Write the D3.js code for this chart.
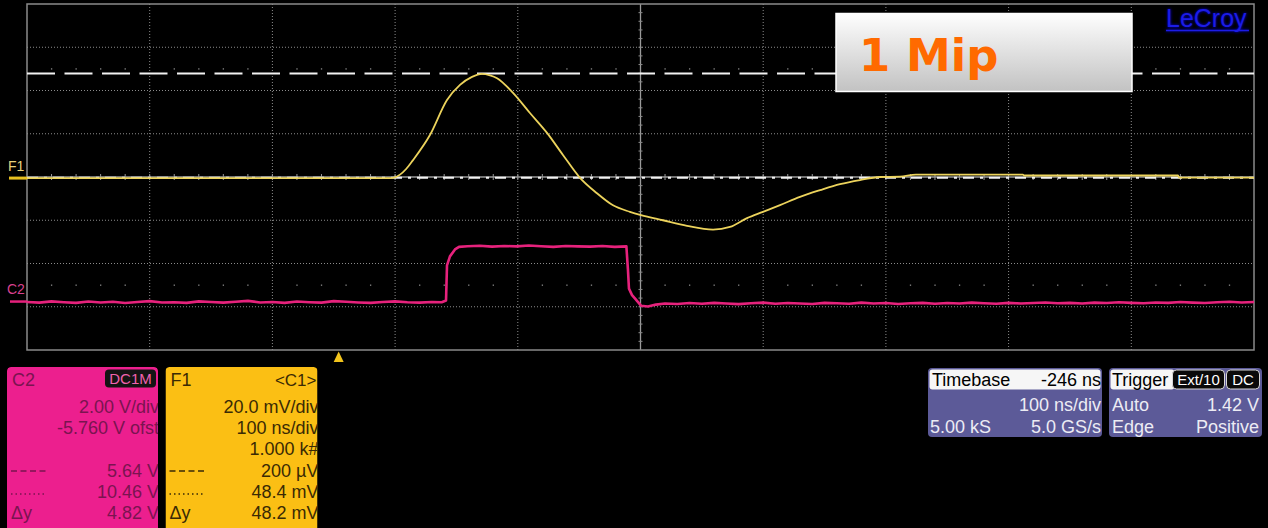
<!DOCTYPE html>
<html>
<head>
<meta charset="utf-8">
<script src="https://cdn.jsdelivr.net/npm/d3@7"></script>
<style>
  html, body { margin: 0; padding: 0; background: #000; }
  svg { display: block; }
</style>
</head>
<body>
<svg id="scope" width="1268" height="528"></svg>
<script>
// ---------------- waveform data ----------------
// F1 (averaged C1): [time ns relative to trigger, amplitude mV]
const f1Trace = [
  [-254, 0], [40, 0], [44.3, 0.1], [50.0, 1.6], [55, 4.2], [60.6, 8.3], [74.4, 19.9], [88.3, 36.1],
  [98.9, 43.1], [108.7, 46.8], [116.8, 48.2], [123.4, 47.5], [129.1, 46.2],
  [142.1, 39.4], [155.9, 30.1], [169.8, 20.9], [182.8, 10.7], [196.7, 0.1],
  [210.5, -7.0], [223.6, -12.6], [237.4, -15.6], [246.4, -17.1], [264.3, -19.5],
  [283.9, -22.1], [305.1, -23.8], [318.9, -22.6], [332.8, -18.5], [345.8, -15.6],
  [359.7, -12.5], [376.0, -8.7], [392.3, -5.6], [408.6, -2.8], [424.9, -0.9],
  [441.2, 0.5], [457.5, 0.7], [470.5, 1.6], [557.7, 1.6], [558.5, 1.2],
  [684.1, 1.2], [684.9, 0.2], [746, 0.2]
];

// C2 (gate): [time ns relative to trigger, amplitude V]
const c2Trace = [
  [-254, -0.02], [-244, -0.05], [-234, 0.01], [-224, -0.03], [-214, -0.06], [-204, 0.00],
  [-194, -0.04], [-184, -0.01], [-174, -0.07], [-164, -0.02], [-154, 0.02], [-144, -0.04],
  [-134, -0.03], [-124, -0.06], [-114, 0.01], [-104, -0.02], [-94, -0.05], [-84, -0.01],
  [-74, 0.03], [-64, -0.04], [-54, -0.02], [-44, -0.06], [-34, 0.00], [-24, -0.03],
  [-14, -0.05], [-4, 0.02], [6, -0.01], [16, -0.04], [26, -0.06], [36, -0.02],
  [46, 0.01], [56, -0.03], [66, -0.05], [76, -0.02], [84, -0.03],
  [87.5, 0.05], [88.3, 1.67], [90.7, 2.09], [94.8, 2.41], [98.1, 2.53],
  [105, 2.56], [115, 2.58], [125, 2.54], [135, 2.57], [145, 2.55], [155, 2.59],
  [165, 2.56], [175, 2.53], [185, 2.57], [195, 2.55], [205, 2.54], [215, 2.57],
  [225, 2.53], [234.5, 2.55],
  [235.8, 1.44], [236.6, 0.60], [239.1, 0.30], [242.3, 0.09], [246.4, -0.19],
  [252.1, -0.23], [258.6, -0.14], [266, -0.09],
  [276, -0.11], [286, -0.07], [296, -0.10], [306, -0.06], [316, -0.09], [326, -0.12],
  [336, -0.08], [346, -0.05], [356, -0.10], [366, -0.07], [376, -0.09], [386, -0.11],
  [396, -0.06], [406, -0.08], [416, -0.10], [426, -0.05], [436, -0.09], [446, -0.07],
  [456, -0.11], [466, -0.08], [476, -0.06], [486, -0.10], [496, -0.07], [506, -0.09],
  [516, -0.05], [526, -0.08], [536, -0.10], [546, -0.06], [556, -0.09], [566, -0.07],
  [576, -0.04], [586, -0.08], [596, -0.06], [606, -0.09], [616, -0.05], [626, -0.07],
  [636, -0.03], [646, -0.06], [656, -0.08], [666, -0.04], [676, -0.06], [686, -0.02],
  [696, -0.05], [706, -0.07], [716, -0.03], [726, -0.01], [736, -0.04], [746, -0.02]
];

// horizontal cursor levels on F1 (mV)
const f1CursorLevels = [48.4, 0.2];

// readout panels
const c2Rows = [
  ["", "2.00 V/div"], ["", "-5.760 V ofst"], ["", ""],
  ["dash", "5.64 V"], ["dot", "10.46 V"], ["Δy", "4.82 V"]
];
const f1Rows = [
  ["", "20.0 mV/div"], ["", "100 ns/div"], ["", "1.000 k#"],
  ["dash", "200 µV"], ["dot", "48.4 mV"], ["Δy", "48.2 mV"]
];
const timebaseRows = [["", "100 ns/div"], ["5.00 kS", "5.0 GS/s"]];
const triggerRows = [["Auto", "1.42 V"], ["Edge", "Positive"]];

// ---------------- layout ----------------
const svg = d3.select("#scope");
const GX0 = 27, GX1 = 1254, GY0 = 4, GY1 = 350;
const NX = 10, NY = 8;
const divW = (GX1 - GX0) / NX, divH = (GY1 - GY0) / NY;
const cx = GX0 + divW * NX / 2, cy = GY0 + divH * NY / 2;
const FONT = "'Liberation Sans', Arial, Helvetica, sans-serif";

// time: 100 ns/div, timebase delay -246 ns
const x = d3.scaleLinear().domain([-254, 746]).range([GX0, GX1]);
// F1: 20 mV/div
const yF1 = d3.scaleLinear().domain([-79.5, 80.5]).range([GY1, GY0]);
// C2: 2 V/div, offset -5.760 V
const yC2 = d3.scaleLinear().domain([5.76 - 8, 5.76 + 8]).range([GY1, GY0]);

svg.append("rect").attr("width", 1268).attr("height", 528).attr("fill", "#000");

// defs
const defs = svg.append("defs");
const grad = defs.append("linearGradient").attr("id", "labelGrad")
  .attr("x1", 0).attr("y1", 0).attr("x2", 0).attr("y2", 1);
grad.append("stop").attr("offset", "0%").attr("stop-color", "#fefefe");
grad.append("stop").attr("offset", "100%").attr("stop-color", "#c2c2c2");
const glow = defs.append("filter").attr("id", "glow")
  .attr("x", "-20%").attr("y", "-40%").attr("width", "140%").attr("height", "180%");
glow.append("feGaussianBlur").attr("stdDeviation", 1.8);
const soft = defs.append("filter").attr("id", "soft");
soft.append("feGaussianBlur").attr("stdDeviation", 0.45);
defs.append("clipPath").attr("id", "plotClip").append("rect")
  .attr("x", GX0).attr("y", GY0).attr("width", GX1 - GX0).attr("height", GY1 - GY0);

// ---------------- graticule ----------------
const grid = svg.append("g");
d3.range(1, NX).filter(i => i !== NX / 2).forEach(i => {
  grid.append("line").attr("x1", GX0 + i * divW).attr("x2", GX0 + i * divW)
    .attr("y1", GY0).attr("y2", GY1)
    .attr("stroke", "#8c8c8c").attr("stroke-width", 1).attr("stroke-dasharray", "1,2");
});
d3.range(1, NY).filter(i => i !== NY / 2).forEach(i => {
  grid.append("line").attr("y1", GY0 + i * divH).attr("y2", GY0 + i * divH)
    .attr("x1", GX0).attr("x2", GX1)
    .attr("stroke", "#8c8c8c").attr("stroke-width", 1).attr("stroke-dasharray", "1,2");
});
// centre axes
grid.append("line").attr("x1", cx).attr("x2", cx).attr("y1", GY0).attr("y2", GY1)
  .attr("stroke", "#9a9a9a").attr("stroke-width", 1.3);
grid.append("line").attr("x1", GX0).attr("x2", GX1).attr("y1", cy).attr("y2", cy)
  .attr("stroke", "#9a9a9a").attr("stroke-width", 1.3);
// minor ticks on centre axes and tick rows
d3.range(1, NX * 5).forEach(i => {
  const xx = GX0 + i * divW / 5;
  grid.append("line").attr("x1", xx).attr("x2", xx).attr("y1", cy - 3).attr("y2", cy + 3)
    .attr("stroke", "#9a9a9a").attr("stroke-width", 1);
  if (i % 5 !== 0) {
    [GY0 + 1.5 * divH, GY0 + 6.5 * divH].forEach(yy => {
      grid.append("rect").attr("x", xx - 0.6).attr("y", yy - 0.6).attr("width", 1.3).attr("height", 1.3)
        .attr("fill", "#8a8a8a");
    });
  }
});
d3.range(1, NY * 5).forEach(i => {
  const yy = GY0 + i * divH / 5;
  grid.append("line").attr("x1", cx - 2).attr("x2", cx + 2).attr("y1", yy).attr("y2", yy)
    .attr("stroke", "#8a8a8a").attr("stroke-width", 1);
});
// frame
grid.append("rect").attr("x", GX0).attr("y", GY0).attr("width", GX1 - GX0).attr("height", GY1 - GY0)
  .attr("fill", "none").attr("stroke", "#8a8a8a").attr("stroke-width", 1.5);

// ---------------- cursors ----------------
const cur = svg.append("g");
cur.append("line").attr("x1", GX0).attr("x2", GX1)
  .attr("y1", yF1(f1CursorLevels[0])).attr("y2", yF1(f1CursorLevels[0]))
  .attr("stroke", "#f2f2f2").attr("stroke-width", 2).attr("stroke-dasharray", "28,9.5");
cur.append("line").attr("x1", GX0).attr("x2", GX1)
  .attr("y1", yF1(f1CursorLevels[1])).attr("y2", yF1(f1CursorLevels[1]))
  .attr("stroke", "#f2f2f2").attr("stroke-width", 2).attr("stroke-dasharray", "11,6,3,6");

// ---------------- traces ----------------
const traces = svg.append("g").attr("clip-path", "url(#plotClip)");
traces.append("path").datum(c2Trace)
  .attr("d", d3.line().x(d => x(d[0])).y(d => yC2(d[1])))
  .attr("fill", "none").attr("stroke", "#e6217c").attr("stroke-width", 2.6)
  .attr("stroke-linejoin", "round").attr("filter", "url(#soft)");
traces.append("path").datum(f1Trace)
  .attr("d", d3.line().x(d => x(d[0])).y(d => yF1(d[1])).curve(d3.curveMonotoneX))
  .attr("fill", "none").attr("stroke", "#ecd35c").attr("stroke-width", 1.8);

// trace markers at left edge
svg.append("text").attr("x", 8).attr("y", yF1(0) - 7).text("F1")
  .attr("font-family", FONT).attr("font-size", 14).attr("fill", "#e8d27c");
svg.append("line").attr("x1", 9).attr("x2", GX0).attr("y1", yF1(0)).attr("y2", yF1(0))
  .attr("stroke", "#e8c020").attr("stroke-width", 3);
svg.append("text").attr("x", 7).attr("y", yC2(0) - 8).text("C2")
  .attr("font-family", FONT).attr("font-size", 14).attr("fill", "#d8408f");
svg.append("line").attr("x1", 10).attr("x2", GX0).attr("y1", yC2(0)).attr("y2", yC2(0))
  .attr("stroke", "#e6217c").attr("stroke-width", 2.5);

// trigger position marker
const tx = x(0);
svg.append("path").attr("d", `M${tx - 5},362 L${tx + 5},362 L${tx},351.5 Z`).attr("fill", "#f2c41c");

// ---------------- "1 Mip" label ----------------
svg.append("rect").attr("x", 836).attr("y", 13.5).attr("width", 296).attr("height", 78)
  .attr("fill", "url(#labelGrad)").attr("stroke", "#ffffff").attr("stroke-width", 1.5);
svg.append("text").attr("x", 859).attr("y", 71).text("1 Mip")
  .attr("font-family", "'DejaVu Sans', Verdana, sans-serif").attr("font-weight", "bold")
  .attr("font-size", 45).attr("fill", "#ff6a00");

// ---------------- brand ----------------
const brand = svg.append("g");
[true, false].forEach(blur => {
  const g = brand.append("g").attr("filter", blur ? "url(#glow)" : null).attr("opacity", blur ? 0.9 : 1);
  g.append("text").attr("x", 1166).attr("y", 27).text("LeCroy")
    .attr("font-family", FONT).attr("font-size", 25).attr("fill", blur ? "#0000ff" : "#1c1ce6");
  g.append("line").attr("x1", 1166).attr("x2", 1249).attr("y1", 30.5).attr("y2", 30.5)
    .attr("stroke", blur ? "#0000ff" : "#1c1ce6").attr("stroke-width", 1.5);
});

// ---------------- readout panels ----------------
const rowBase = [413, 434, 455, 477, 498, 519];

function channelPanel(px, pw, fill, ink, title, badge, rows) {
  const id = "clip" + title;
  defs.append("clipPath").attr("id", id).append("rect")
    .attr("x", px).attr("y", 367).attr("width", pw).attr("height", 170).attr("rx", 4);
  const g = svg.append("g").attr("clip-path", `url(#${id})`);
  g.append("rect").attr("x", px).attr("y", 367).attr("width", pw).attr("height", 170)
    .attr("rx", 4).attr("fill", fill);
  g.append("text").attr("x", px + 5).attr("y", 386).text(title)
    .attr("font-family", FONT).attr("font-size", 18).attr("fill", ink);
  const right = px + pw + 1;
  if (badge.box) {
    g.append("rect").attr("x", px + pw - 53).attr("y", 369.5).attr("width", 51).attr("height", 18)
      .attr("rx", 4).attr("fill", "#141414");
    g.append("text").attr("x", px + pw - 27.5).attr("y", 384).text(badge.text)
      .attr("text-anchor", "middle").attr("font-family", FONT).attr("font-size", 15)
      .attr("fill", badge.color);
  } else {
    g.append("text").attr("x", right - 2).attr("y", 386).text(badge.text)
      .attr("text-anchor", "end").attr("font-family", FONT).attr("font-size", 17).attr("fill", ink);
  }
  rows.forEach((r, i) => {
    const yb = rowBase[i];
    g.append("text").attr("x", right).attr("y", yb).text(r[1])
      .attr("text-anchor", "end").attr("font-family", FONT).attr("font-size", 18).attr("fill", ink);
    if (r[0] === "dash") {
      g.append("line").attr("x1", px + 4).attr("x2", px + 39).attr("y1", yb - 6).attr("y2", yb - 6)
        .attr("stroke", ink).attr("stroke-width", 1.3).attr("stroke-dasharray", "6,3.5");
    } else if (r[0] === "dot") {
      g.append("line").attr("x1", px + 4).attr("x2", px + 40).attr("y1", yb - 4).attr("y2", yb - 4)
        .attr("stroke", ink).attr("stroke-width", 1.3).attr("stroke-dasharray", "1.5,3");
    } else if (r[0]) {
      g.append("text").attr("x", px + 4).attr("y", yb).text(r[0])
        .attr("font-family", FONT).attr("font-size", 18).attr("fill", ink);
    }
  });
}
channelPanel(7, 151, "#ec1f8e", "#7a1450", "C2", {box: true, text: "DC1M", color: "#f062ae"}, c2Rows);
channelPanel(165.5, 152, "#fbbf14", "#3a2a04", "F1", {box: false, text: "<C1>"}, f1Rows);

function infoPanel(px, pw) {
  const g = svg.append("g");
  g.append("rect").attr("x", px).attr("y", 368).attr("width", pw).attr("height", 69)
    .attr("rx", 4).attr("fill", "#5c5a98");
  return g;
}
// timebase
const tb = infoPanel(928, 174);
tb.append("rect").attr("x", 929.5).attr("y", 369.5).attr("width", 171).attr("height", 20)
  .attr("rx", 3).attr("fill", "#f6f6f6");
tb.append("text").attr("x", 932).attr("y", 386).text("Timebase")
  .attr("font-family", FONT).attr("font-size", 18).attr("fill", "#000");
tb.append("text").attr("x", 1101).attr("y", 386).text("-246 ns")
  .attr("text-anchor", "end").attr("font-family", FONT).attr("font-size", 18).attr("fill", "#000");
timebaseRows.forEach((r, i) => {
  const yb = 411 + i * 22;
  if (r[0]) tb.append("text").attr("x", 930).attr("y", yb).text(r[0])
    .attr("font-family", FONT).attr("font-size", 18).attr("fill", "#ececf4");
  tb.append("text").attr("x", 1101).attr("y", yb).text(r[1]).attr("text-anchor", "end")
    .attr("font-family", FONT).attr("font-size", 18).attr("fill", "#ececf4");
});
// trigger
const tr = infoPanel(1109, 153);
tr.append("rect").attr("x", 1110.5).attr("y", 369.5).attr("width", 64).attr("height", 20)
  .attr("rx", 3).attr("fill", "#f6f6f6");
tr.append("text").attr("x", 1112).attr("y", 386).text("Trigger")
  .attr("font-family", FONT).attr("font-size", 18).attr("fill", "#000");
[["Ext/10", 1172.5, 52], ["DC", 1226.5, 33]].forEach(b => {
  tr.append("rect").attr("x", b[1]).attr("y", 370).attr("width", b[2]).attr("height", 19)
    .attr("rx", 4).attr("fill", "#0a0a0a").attr("stroke", "#d8d8d8").attr("stroke-width", 1);
  tr.append("text").attr("x", b[1] + b[2] / 2).attr("y", 385).text(b[0]).attr("text-anchor", "middle")
    .attr("font-family", FONT).attr("font-size", 15).attr("fill", "#fff");
});
triggerRows.forEach((r, i) => {
  const yb = 411 + i * 22;
  tr.append("text").attr("x", 1112).attr("y", yb).text(r[0])
    .attr("font-family", FONT).attr("font-size", 18).attr("fill", "#ececf4");
  tr.append("text").attr("x", 1259).attr("y", yb).text(r[1]).attr("text-anchor", "end")
    .attr("font-family", FONT).attr("font-size", 18).attr("fill", "#ececf4");
});
</script>
</body>
</html>
